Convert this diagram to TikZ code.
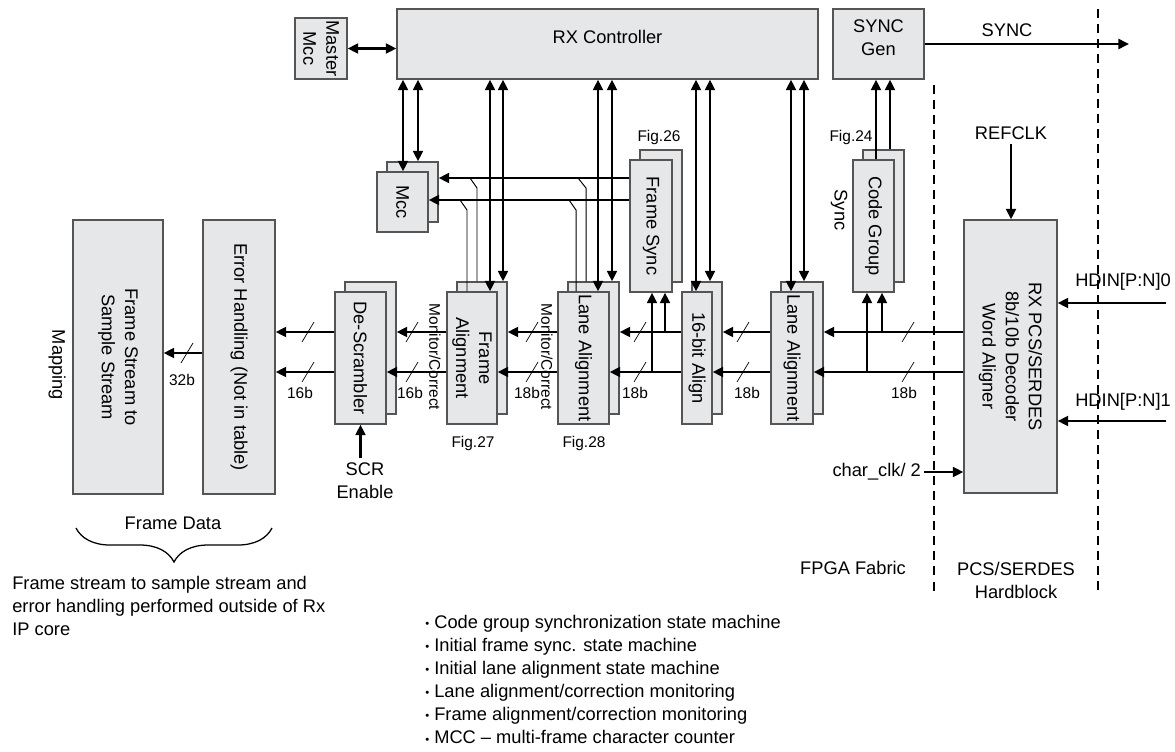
\documentclass[tikz,border=0pt]{standalone}
\usepackage{fontspec}
\setmainfont{Liberation Sans}
\usetikzlibrary{arrows.meta, fit, decorations.pathreplacing}
\definecolor{boxfill}{HTML}{E6E7E8}
\definecolor{boxline}{HTML}{555555}
\newcommand{\itembul}{\raisebox{0.6pt}{\fontsize{8}{8}\selectfont\textbullet}\ }
\tikzset{
  every picture/.style={font=\fontsize{13}{16.4}\selectfont},
  blk/.style={draw=boxline, fill=boxfill, line width=0.9pt, inner sep=0pt},
  vtxt/.style={rotate=-90, align=center, inner sep=0pt},
  lbl/.style={font=\fontsize{11}{13}\selectfont, inner sep=1pt},
  arr/.style={-{Triangle[length=7.5pt, width=7pt]}, line width=1.8pt},
  dbl/.style={{Triangle[length=7.5pt, width=7pt]}-{Triangle[length=7.5pt, width=7pt]}, line width=1.8pt},
  tap/.style={line width=0.7pt},
  slash/.style={line width=0.5pt},
  border/.style={line width=0.8pt, dash pattern=on 6.4pt off 4.3pt},
}

\begin{document}
\begin{tikzpicture}[x=0.025cm, y=-0.025cm]
  \useasboundingbox (0,0) rectangle (1175,751);
  % top row
  \node[blk, fit={(397,9) (818,79)}] (ctrl) {RX Controller};
  \node[blk, fit={(295,18) (347,79)}] (mmcc) {};
  \node[vtxt] (mmcc-t) at (mmcc) {Master\\Mcc};
  \node[blk, fit={(833,9) (924,79)}, align=center] (sgen) {SYNC\\Gen};
  % big blocks
  \node[blk, fit={(73,220) (163,494)}] (fss) {};
  \node[blk, fit={(203,220) (275,494)}] (eh) {};
  \node[blk, fit={(964,220) (1057,493)}] (pcs) {};
  \node[vtxt] (fss-t) at (fss) {Frame Stream to\\Sample Stream};
  \node[vtxt] (eh-t) at (eh) {Error Handling (Not in table)};
  \node[vtxt] (pcs-t) at (pcs) {RX PCS/SERDES\\8b/10b Decoder\\Word Aligner};
  % stacked blocks, back copy first
  \foreach \n/\xa/\ya/\xb/\yb in {mcc/377/172/428/232, fs/630/160/672/292, cg/853/160/894/292,
      ds/335/292/386/424, fa/447/292/497/424, la/558/292/609/424, bit/682/292/712/424, lr/771/292/813/424} {
    \node[blk, fit={(\xa+10,\ya-10) (\xb+10,\yb-10)}] (\n-b) {};
    \node[blk, fit={(\xa,\ya) (\xb,\yb)}] (\n-f) {};
  }
  \foreach \n/\t in {mcc/Mcc, fs/Frame Sync, cg/Code Group, ds/De-Scrambler, fa/{Frame\\Alignment},
      la/Lane Alignment, bit/16-bit Align, lr/Lane Alignment}
    \node[vtxt] (\n-t) at (\n-f) {\t};

  % controller links
  \draw[dbl] (mmcc.east) -- (ctrl.west |- mmcc.east);
  \draw[dbl] (403,0 |- ctrl.south) -- (403,0 |- mcc-f.north);
  \draw[dbl] (418,0 |- ctrl.south) -- (418,0 |- mcc-b.north);
  \foreach \xa/\xb/\n in {490/503/fa, 598/612/la, 696/710/bit, 791/804/lr} {
    \draw[dbl] (\xa,0 |- ctrl.south) -- (\xa,0 |- \n-f.north);
    \draw[dbl] (\xb,0 |- ctrl.south) -- (\xb,0 |- \n-b.north);
  }
  \draw[arr] (876,0 |- cg-f.north) -- (876,0 |- sgen.south);
  \draw[arr] (890,0 |- cg-b.north) -- (890,0 |- sgen.south);
  % frame sync to mcc, with taps
  \draw[arr] (fs-f.west |- 0,178) -- (mcc-b.east |- 0,178);
  \draw[arr] (fs-f.west |- 0,200) -- (mcc-f.east |- 0,200);
  \draw[tap] (470,178) -- (477,188) -- (477,0 |- fa-b.north);
  \draw[tap] (460,200) -- (467,210) -- (467,0 |- fa-f.north);
  \draw[tap] (578,178) -- (586,188) -- (586,0 |- la-b.north);
  \draw[tap] (569,200) -- (576,210) -- (576,0 |- la-f.north);

  % data buses
  \coordinate (up) at (0,332);
  \coordinate (lo) at (0,372);
  \draw[arr] (pcs.west |- up) -- (lr-b.east |- up);
  \draw[arr] (pcs.west |- lo) -- (lr-f.east |- lo);
  \foreach \s/\d in {lr/bit, bit/la, la/fa, fa/ds} {
    \draw[arr] (\s-f.west |- up) -- (\d-b.east |- up);
    \draw[arr] (\s-f.west |- lo) -- (\d-f.east |- lo);
  }
  \draw[arr] (ds-f.west |- up) -- (eh.east |- up);
  \draw[arr] (ds-f.west |- lo) -- (eh.east |- lo);
  \draw[arr] (eh.west |- 0,353) -- (fss.east |- 0,353);
  \draw[arr] (882,0 |- up) -- (882,0 |- cg-f.south);
  \draw[arr] (867,0 |- lo) -- (867,0 |- cg-f.south);
  \draw[arr] (665,0 |- up) -- (665,0 |- fs-f.south);
  \draw[arr] (652,0 |- lo) -- (652,0 |- fs-f.south);
  \foreach \x in {308,412,532,640,743,908} {
    \draw[slash] (\x-6,342) -- (\x+6,322);
    \draw[slash] (\x-6,382) -- (\x+6,362);
  }
  \draw[slash] (181,363) -- (193,343);
  \foreach \x/\t in {300/16b, 410/16b, 527/18b, 635/18b, 747/18b, 904/18b}
    \node[lbl] (bw-\x) at (\x,393) {\t};
  \node[lbl] (bw-182) at (182,380) {32b};

  % labels
  \node[lbl, rotate=-90] (mc1) at (435,357) {Monitor/Correct};
  \node[lbl, rotate=-90] (mc2) at (547,357) {Monitor/Correct};
  \node[lbl] (fig26) at (659,137) {Fig.26};
  \node[lbl] (fig24) at (851,137) {Fig.24};
  \node[lbl] (fig27) at (473,443) {Fig.27};
  \node[lbl] (fig28) at (584,443) {Fig.28};
  \node[rotate=-90] (cgsync) at (839,210) {Sync};
  \node[rotate=-90] (mapping) at (57,365) {Mapping};

  % inputs and outputs
  \coordinate (syncout) at (1129,44);
  \draw[arr] (sgen.east) -- (syncout);
  \node (synclbl) at (1007,30) {SYNC};
  \node (refclk) at (1011,133) {REFCLK};
  \draw[arr] (refclk.south) -- (refclk.south |- pcs.north);
  \coordinate (hd0) at (1166,303);
  \coordinate (hd1) at (1166,421);
  \draw[arr] (hd0) -- (pcs.east |- hd0);
  \draw[arr] (hd1) -- (pcs.east |- hd1);
  \node[anchor=west, inner sep=0pt] (hd0-t) at (1075,282) {HDIN[P:N]0};
  \node[anchor=west, inner sep=0pt] (hd1-t) at (1075,402) {HDIN[P:N]1};
  \node[anchor=east, inner sep=2pt] (clk) at (924,472) {char\_clk/ 2};
  \draw[arr] (clk.east) -- (pcs.west |- clk.east);
  \node[align=center] (scr) at (365,481) {SCR\\Enable};
  \draw[arr] (ds-f.south |- scr.north) -- (ds-f.south);

  % fabric borders
  \draw[border] (934,85) -- (934,595);
  \draw[border] (1098,9) -- (1098,595);
  \node (fpga) at (853,568) {FPGA Fabric};
  \node[align=center] (hard) at (1016,580) {PCS/SERDES\\Hardblock};

  % notes
  \node (fdata) at (173,523) {Frame Data};
  \draw[decorate, decoration={brace, amplitude=0.85cm}, line width=0.9pt] (272,528) -- (76,528);
  \node[anchor=north west, align=left, inner sep=0pt] (outside) at (12,576)
    {Frame stream to sample stream and\\error handling performed outside of Rx\\IP core};
  \node[anchor=north west, align=left, inner sep=0pt] (list) at (425,615)
    {\itembul Code group synchronization state machine\\
     \itembul Initial frame sync. state machine\\
     \itembul Initial lane alignment state machine\\
     \itembul Lane alignment/correction monitoring\\
     \itembul Frame alignment/correction monitoring\\
     \itembul MCC -- multi-frame character counter};
\end{tikzpicture}
\end{document}
